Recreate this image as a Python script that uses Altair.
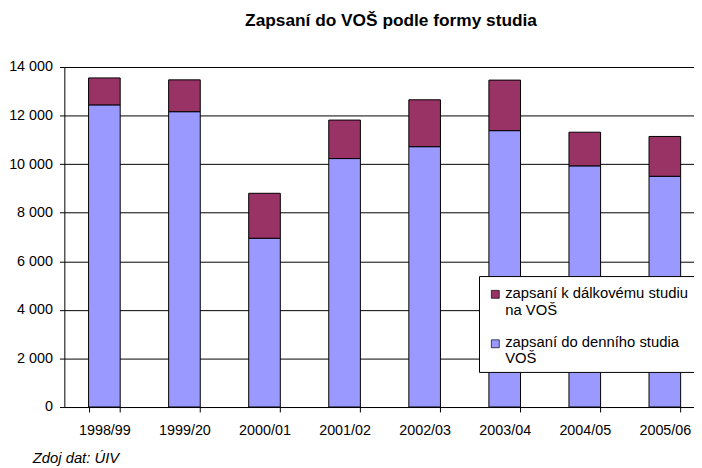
import altair as alt
import pandas as pd

years = ["1998/99", "1999/20", "2000/01", "2001/02", "2002/03", "2003/04", "2004/05", "2005/06"]
denni = [12440, 12160, 6950, 10230, 10720, 11380, 9930, 9500]
dalkove = [1110, 1310, 1850, 1585, 1930, 2080, 1385, 1640]
series = ["zapsaní k dálkovému studiu na VOŠ", "zapsaní do denního studia VOŠ"]
colors = ["#993366", "#9999FF"]
legend_lines = ["zapsaní k dálkovému studiu\nna VOŠ", "zapsaní do denního studia\nVOŠ"]
y_ticks = [0, 2000, 4000, 6000, 8000, 10000, 12000, 14000]
title_text = "Zapsaní do VOŠ podle formy studia"
source_text = "Zdoj dat: ÚIV"

rows = []
for i, yr in enumerate(years):
    rows.append({"rok": yr, "serie": series[1], "pocet": denni[i], "poradi": 0})
    rows.append({"rok": yr, "serie": series[0], "pocet": dalkove[i], "poradi": 1})
df = pd.DataFrame(rows)
one = pd.DataFrame({"k": [0]})

FONT = "Liberation Sans"
axis_common = dict(title=None, labelFont=FONT, labelFontSize=14.5, labelColor="black",
                   domainColor="black", tickColor="black", domainWidth=1, tickWidth=1,
                   tickSize=5)

bars = alt.Chart(df).mark_bar(stroke="black", strokeWidth=1).encode(
    x=alt.X("rok:N", sort=years,
            scale=alt.Scale(domain=years, range=[0, 648], paddingInner=0.605, paddingOuter=0.3025),
            axis=alt.Axis(labelAngle=0, tickBand="extent", grid=False, labelPadding=12,
                          **axis_common)),
    y=alt.Y("pocet:Q", stack="zero",
            scale=alt.Scale(domain=[0, 14000], nice=False),
            axis=alt.Axis(values=y_ticks, grid=True, gridColor="black", gridWidth=1,
                          labelPadding=7,
                          labelExpr="replace(format(datum.value, ','), ',', ' ')",
                          **axis_common)),
    color=alt.Color("serie:N", scale=alt.Scale(domain=series, range=colors), legend=None),
    order=alt.Order("poradi:Q", sort="ascending"),
)

legend_box = alt.Chart(one).mark_rect(fill="white", stroke="black", strokeWidth=1).encode(
    x=alt.value(420), x2=alt.value(640), y=alt.value(212), y2=alt.value(309))
sym1 = alt.Chart(one).mark_rect(stroke="black", strokeWidth=0.7).encode(
    x=alt.value(432), x2=alt.value(440), y=alt.value(226), y2=alt.value(234),
    fill=alt.value(colors[0]))
sym2 = alt.Chart(one).mark_rect(stroke="black", strokeWidth=0.7).encode(
    x=alt.value(432), x2=alt.value(440), y=alt.value(276), y2=alt.value(284),
    fill=alt.value(colors[1]))
txt_style = dict(align="left", baseline="alphabetic", lineBreak="\n", lineHeight=16.5,
                 fontSize=15, font=FONT, color="black")
txt1 = alt.Chart(one).mark_text(**txt_style).encode(
    x=alt.value(446), y=alt.value(234), text=alt.value(legend_lines[0]))
txt2 = alt.Chart(one).mark_text(**txt_style).encode(
    x=alt.value(446), y=alt.value(283), text=alt.value(legend_lines[1]))
source = alt.Chart(one).mark_text(align="left", baseline="alphabetic", fontSize=15,
                                  font=FONT, fontStyle="italic", color="black").encode(
    x=alt.value(-32), y=alt.value(401), text=alt.value(source_text))

chart = alt.layer(bars, legend_box, sym1, sym2, txt1, txt2, source).properties(
    width=637, height=344,
    autosize=alt.AutoSizeParams(type="none"),
    padding={"left": 57, "top": 57, "right": 0, "bottom": 59},
    title=alt.TitleParams(title_text, font=FONT, fontSize=17.5, fontWeight="bold",
                          anchor="middle", dx=12, offset=16, baseline="alphabetic",
                          color="black"),
).configure_view(stroke=None)

chart.save("out.html", embed_options={"renderer": "svg", "actions": False})
